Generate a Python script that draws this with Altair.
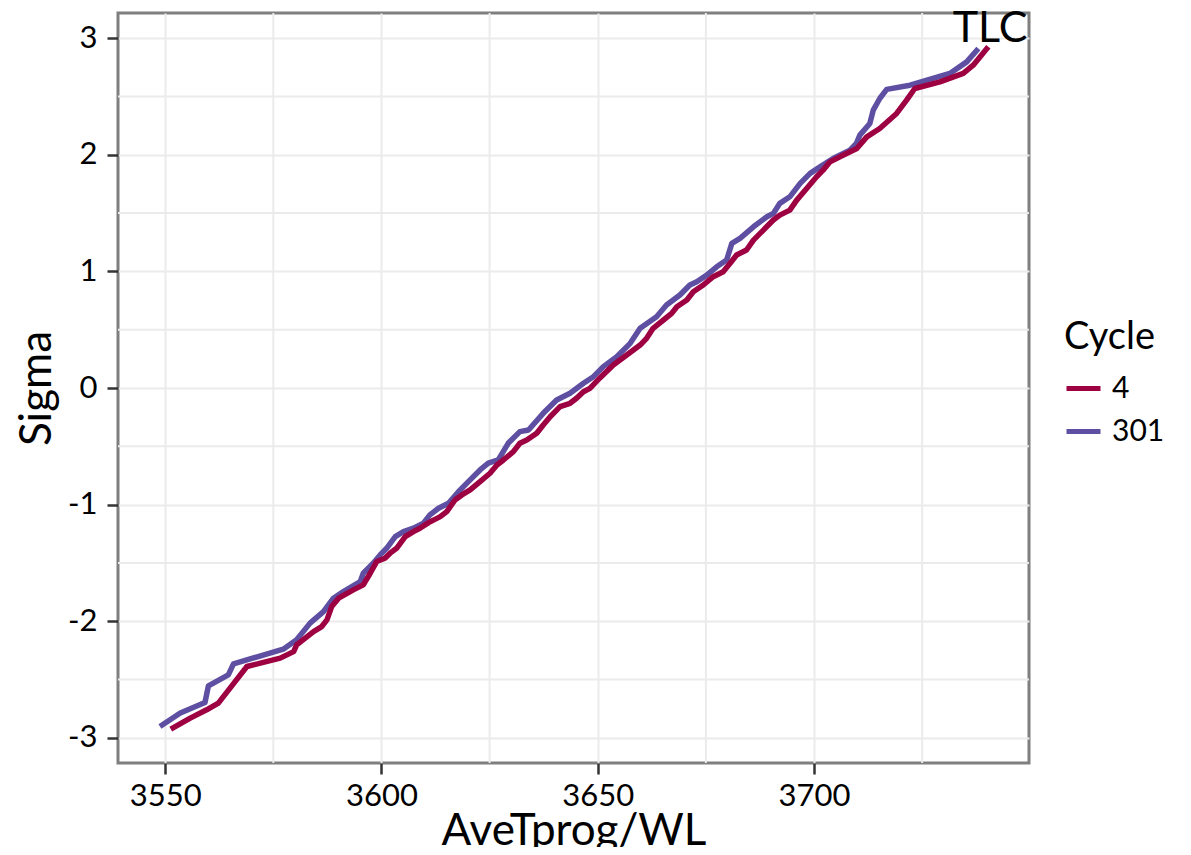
import altair as alt
import pandas as pd

# Cycle 4 (red) normal-probability trace
c4_x = [3551.3, 3555.8, 3559.6, 3562.3, 3565.0, 3568.9, 3576.6, 3579.7, 3580.4, 3584.3,
        3586.2, 3587.4, 3588.5, 3590.1, 3593.5, 3595.8, 3597.4, 3598.9, 3600.8, 3602.0,
        3603.5, 3605.5, 3607.4, 3608.9, 3610.9, 3613.6, 3615.1, 3617.0, 3618.6, 3620.5,
        3622.8, 3625.1, 3626.7, 3628.2, 3630.5, 3632.0, 3633.6, 3635.9, 3637.4, 3639.0,
        3641.3, 3643.6, 3645.1, 3646.7, 3648.2, 3650.5, 3653.6, 3656.7, 3659.8, 3661.3,
        3662.8, 3665.2, 3667.1, 3668.3, 3670.6, 3672.1, 3674.4, 3676.7, 3679.0, 3680.6,
        3682.1, 3684.4, 3686.0, 3688.3, 3690.6, 3692.1, 3694.4, 3696.0, 3698.3, 3700.6,
        3702.1, 3703.7, 3706.8, 3709.9, 3712.2, 3715.2, 3719.1, 3721.4, 3723.3, 3729.1,
        3734.5, 3736.8, 3740.3]
c4_y = [-2.925, -2.830, -2.759, -2.702, -2.573, -2.388, -2.316, -2.260, -2.202, -2.088,
        -2.045, -1.988, -1.874, -1.802, -1.731, -1.688, -1.588, -1.488, -1.459, -1.416,
        -1.374, -1.274, -1.231, -1.202, -1.154, -1.103, -1.060, -0.960, -0.917, -0.874,
        -0.803, -0.731, -0.660, -0.617, -0.546, -0.474, -0.446, -0.388, -0.317, -0.246,
        -0.160, -0.131, -0.088, -0.032, -0.003, 0.086, 0.197, 0.283, 0.368, 0.426,
        0.512, 0.583, 0.640, 0.697, 0.754, 0.825, 0.883, 0.954, 0.997, 1.069,
        1.140, 1.183, 1.268, 1.354, 1.440, 1.482, 1.525, 1.611, 1.711, 1.811,
        1.868, 1.939, 1.997, 2.054, 2.153, 2.225, 2.354, 2.468, 2.568, 2.625,
        2.697, 2.768, 2.925]

# Cycle 301 (blue) normal-probability trace
c301_x = [3548.8, 3553.5, 3559.2, 3560.0, 3564.6, 3565.8, 3577.3, 3580.4, 3583.5, 3586.6,
          3588.9, 3591.2, 3595.1, 3595.8, 3598.1, 3599.7, 3601.2, 3603.2, 3605.1, 3607.4,
          3609.7, 3611.2, 3613.2, 3615.5, 3617.8, 3620.1, 3622.8, 3624.7, 3627.0, 3629.3,
          3632.0, 3634.0, 3637.4, 3640.5, 3643.6, 3646.7, 3649.0, 3651.3, 3654.4, 3657.5,
          3659.8, 3663.6, 3665.9, 3669.0, 3671.3, 3672.9, 3675.2, 3677.5, 3679.8, 3681.0,
          3682.9, 3686.0, 3689.1, 3690.6, 3692.1, 3694.4, 3696.8, 3699.1, 3701.4, 3704.4,
          3708.3, 3709.8, 3710.6, 3712.9, 3713.7, 3715.2, 3716.8, 3722.2, 3731.4, 3735.3,
          3738.0]
c301_y = [-2.902, -2.787, -2.697, -2.554, -2.459, -2.365, -2.239, -2.159, -2.016, -1.917,
          -1.802, -1.746, -1.660, -1.588, -1.502, -1.431, -1.374, -1.274, -1.231, -1.202,
          -1.159, -1.088, -1.031, -0.988, -0.889, -0.803, -0.703, -0.645, -0.617, -0.474,
          -0.374, -0.360, -0.217, -0.103, -0.045, 0.040, 0.097, 0.183, 0.268, 0.383,
          0.512, 0.611, 0.711, 0.797, 0.883, 0.911, 0.968, 1.039, 1.097, 1.240,
          1.283, 1.382, 1.468, 1.497, 1.583, 1.639, 1.754, 1.840, 1.896, 1.968,
          2.039, 2.097, 2.168, 2.268, 2.382, 2.482, 2.560, 2.596, 2.697, 2.796,
          2.911]

cycles = ["4", "301"]
colors = ["#9E0142", "#5E4FA2"]

x_ticks = [3550, 3600, 3650, 3700]
y_ticks = [-3, -2, -1, 0, 1, 2, 3]
x_minor = [3575, 3625, 3675, 3725]
y_minor = [-2.5, -1.5, -0.5, 0.5, 1.5, 2.5]
x_domain = [3539.1, 3749.7]
y_domain = [-3.215, 3.215]

label_text = ["TLC"]
label_x = [3740.7]
label_y = [3.08]

FONT = "Lato"

df = pd.concat([
    pd.DataFrame({"x": c4_x, "y": c4_y, "Cycle": cycles[0]}),
    pd.DataFrame({"x": c301_x, "y": c301_y, "Cycle": cycles[1]}),
])
df["i"] = list(range(len(c4_x))) + list(range(len(c301_x)))

xs = alt.Scale(domain=x_domain, nice=False, zero=False)
ys = alt.Scale(domain=y_domain, nice=False, zero=False)
cs = alt.Scale(domain=cycles, range=colors)
x_axis = alt.Axis(values=x_ticks, labelExpr="'' + datum.value", title="AveTprog/WL",
                  titleBaseline="alphabetic", titleY=81)
y_axis = alt.Axis(values=y_ticks, labelExpr="'' + datum.value", title="Sigma")

X = lambda: alt.X("x:Q", scale=xs, axis=x_axis)
Y = lambda: alt.Y("y:Q", scale=ys, axis=y_axis)

minor_v = alt.Chart(pd.DataFrame({"x": x_minor})).mark_rule(
    color="#EBEBEB", strokeWidth=2).encode(x=X())
minor_h = alt.Chart(pd.DataFrame({"y": y_minor})).mark_rule(
    color="#EBEBEB", strokeWidth=2).encode(y=Y())

def line_layer(cyc):
    return alt.Chart(df).transform_filter(
        alt.datum.Cycle == cyc
    ).mark_line(strokeWidth=5.5, strokeJoin="round", strokeCap="butt").encode(
        x=X(),
        y=Y(),
        color=alt.Color("Cycle:N", scale=cs, sort=cycles,
                        legend=alt.Legend(title="Cycle", orient="none",
                                          legendX=946, legendY=306)),
        order=alt.Order("i:Q"),
    )

text = alt.Chart(pd.DataFrame({"t": label_text, "x": label_x, "y": label_y})).mark_text(
    font=FONT, fontSize=43, color="black", align="center", baseline="middle"
).encode(x=X(), y=Y(), text="t:N")

chart = alt.layer(minor_v, minor_h, line_layer("301"), line_layer("4"), text).properties(
    width=911, height=750,
    autosize=alt.AutoSizeParams(type="none"),
    padding={"left": 110, "top": 5, "right": 150, "bottom": 84},
    background="white",
).configure_view(
    stroke="#7F7F7F", strokeWidth=3
).configure_axis(
    domain=False, grid=True, gridColor="#EBEBEB", gridWidth=2,
    tickColor="#333333", tickWidth=2.5, tickSize=11,
    labelFont=FONT, labelFontSize=31, labelColor="black",
    titleFont=FONT, titleFontSize=44, titleColor="black", titleFontWeight="normal",
).configure_axisX(
    labelPadding=7
).configure_axisY(
    labelPadding=10, titlePadding=8
).configure_legend(
    titleFont=FONT, titleFontSize=38, titleFontWeight="normal", titleColor="black",
    labelFont=FONT, labelFontSize=30, labelColor="black",
    symbolType="stroke", symbolSize=1156, symbolStrokeWidth=5,
    titlePadding=12, rowPadding=8, labelOffset=9, padding=0,
)

chart.save("out.html", embed_options={"renderer": "svg", "actions": False})
